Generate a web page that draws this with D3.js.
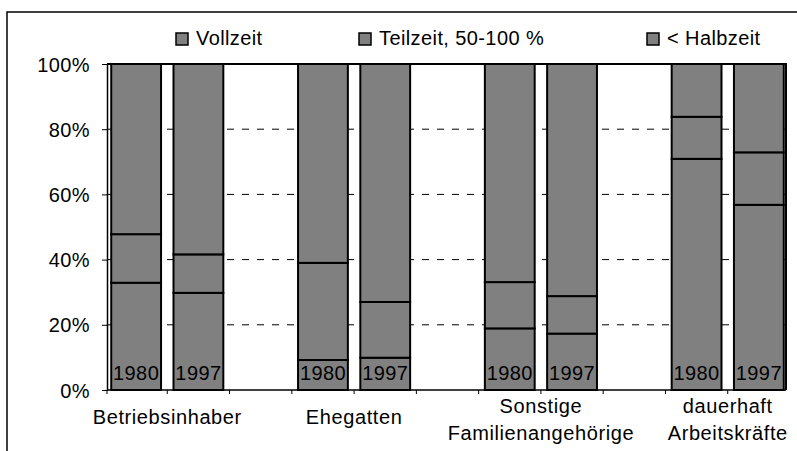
<!DOCTYPE html>
<html>
<head>
<meta charset="utf-8">
<script src="https://cdn.jsdelivr.net/npm/d3@7"></script>
<style>
  body { margin: 0; background: #fff; }
  text { font-family: "Liberation Sans", Arial, sans-serif; fill: #000; }
</style>
</head>
<body>
<svg id="chart" width="797" height="451"></svg>
<script>
// data (percent of each bar)
const groups = ["Betriebsinhaber", "Ehegatten", "Sonstige Familienangehörige", "dauerhaft Arbeitskräfte"];
const groupLines = [["Betriebsinhaber"], ["Ehegatten"], ["Sonstige", "Familienangehörige"], ["dauerhaft", "Arbeitskräfte"]];
const years = ["1980", "1997"];
const seriesNames = ["Vollzeit", "Teilzeit, 50-100 %", "< Halbzeit"];
const vollzeit = [32.9, 29.8, 9.2, 9.9, 18.9, 17.3, 70.9, 56.8];
const teilzeit = [14.9, 11.8, 29.8, 17.1, 14.2, 11.5, 12.9, 16.1];
const halbzeit = [52.2, 58.4, 61.0, 73.0, 66.9, 71.2, 16.2, 27.1];
const yTicks = [0, 0.2, 0.4, 0.6, 0.8, 1];

const svg = d3.select("#chart");
const plotLeft = 107, plotRight = 786, plotTop = 64, plotBottom = 390;
const fill = "#808080";

// rows for the stack, one per bar
const rows = [];
groups.forEach((g, gi) => {
  years.forEach((yr, yi) => {
    const i = gi * years.length + yi;
    rows.push({key: g + "|" + yr, group: g, year: yr, v: vollzeit[i], t: teilzeit[i], h: halbzeit[i]});
  });
});

// slots: two bars per group, one empty slot between groups
const slots = [];
groups.forEach((g, gi) => {
  years.forEach(yr => slots.push(g + "|" + yr));
  if (gi < groups.length - 1) slots.push("gap" + gi);
});

const x = d3.scaleBand().domain(slots).range([105, 790]).paddingInner(0.2).paddingOuter(0.1);
const y = d3.scaleLinear().domain([0, 1]).range([plotBottom, plotTop]);

// outer frame
svg.append("rect")
  .attr("x", 7).attr("y", 12).attr("width", 820).attr("height", 480)
  .attr("fill", "none").attr("stroke", "#000").attr("stroke-width", 1.5);

// dashed gridlines
svg.append("g").selectAll("line")
  .data(yTicks.filter(d => d > 0 && d < 1))
  .join("line")
  .attr("x1", plotLeft).attr("x2", plotRight)
  .attr("y1", d => y(d)).attr("y2", d => y(d))
  .attr("stroke", "#000").attr("stroke-width", 1)
  .attr("stroke-dasharray", "7,8");

// plot area top and right edges
svg.append("path")
  .attr("d", `M${plotLeft},${plotTop}H${plotRight}V${plotBottom}`)
  .attr("fill", "none").attr("stroke", "#000").attr("stroke-width", 2);

// stacked bars
const stack = d3.stack().keys(["v", "t", "h"]);
const layers = stack(rows);
svg.append("g").selectAll("g")
  .data(layers)
  .join("g")
  .selectAll("rect")
  .data(d => d)
  .join("rect")
  .attr("x", d => x(d.data.key))
  .attr("width", x.bandwidth())
  .attr("y", d => y(d[1] / 100))
  .attr("height", d => y(d[0] / 100) - y(d[1] / 100))
  .attr("fill", fill)
  .attr("stroke", "#000")
  .attr("stroke-width", 2);

// year labels inside the bars
svg.append("g").selectAll("text")
  .data(rows)
  .join("text")
  .attr("x", d => x(d.key) + x.bandwidth() / 2)
  .attr("y", plotBottom - 10)
  .attr("text-anchor", "middle")
  .style("font-size", "20px")
  .style("letter-spacing", "0.4px")
  .text(d => d.year);

// y axis
const yAxis = svg.append("g")
  .attr("transform", `translate(${plotLeft},0)`)
  .call(d3.axisLeft(y).tickValues(yTicks).tickFormat(d3.format(".0%")).tickSize(5).tickSizeOuter(0).tickPadding(12));
yAxis.select(".domain").attr("stroke", "#000").attr("stroke-width", 1.5);
yAxis.selectAll(".tick line").attr("stroke", "#000");
yAxis.selectAll(".tick text")
  .attr("dy", "0.35em")
  .style("font-size", "20px")
  .style("font-family", "Liberation Sans, Arial, sans-serif")
  .style("letter-spacing", "0.4px");

// x axis line and slot ticks
svg.append("line")
  .attr("x1", plotLeft).attr("x2", plotRight).attr("y1", plotBottom).attr("y2", plotBottom)
  .attr("stroke", "#000").attr("stroke-width", 1.5);
const boundaries = slots.map(s => x(s) - x.step() * x.paddingInner() / 2).slice(1);
svg.append("g").selectAll("line")
  .data([plotLeft].concat(boundaries))
  .join("line")
  .attr("x1", d => d).attr("x2", d => d)
  .attr("y1", plotBottom).attr("y2", plotBottom + 4)
  .attr("stroke", "#000");

// group labels
const labels = svg.append("g").selectAll("text")
  .data(groups)
  .join("text")
  .attr("text-anchor", "middle")
  .style("font-size", "20px")
  .style("letter-spacing", "0.6px")
  .attr("transform", (g, gi) => {
    const a = x(g + "|" + years[0]);
    const b = x(g + "|" + years[years.length - 1]) + x.bandwidth();
    const first = groupLines[gi].length > 1 ? 413 : 424;
    return `translate(${(a + b) / 2},${first})`;
  });
labels.selectAll("tspan")
  .data((g, gi) => groupLines[gi])
  .join("tspan")
  .attr("x", 0)
  .attr("dy", (d, i) => i === 0 ? 0 : 27)
  .text(d => d);

// legend
const legendX = [176, 359, 647];
const legend = svg.append("g").selectAll("g")
  .data(seriesNames)
  .join("g")
  .attr("transform", (d, i) => `translate(${legendX[i]},33)`);
legend.append("rect")
  .attr("width", 12).attr("height", 12)
  .attr("fill", fill).attr("stroke", "#000").attr("stroke-width", 1.5);
legend.append("text")
  .attr("x", 20).attr("y", 12)
  .style("font-size", "20px")
  .style("letter-spacing", "0.4px")
  .text(d => d);
</script>
</body>
</html>
